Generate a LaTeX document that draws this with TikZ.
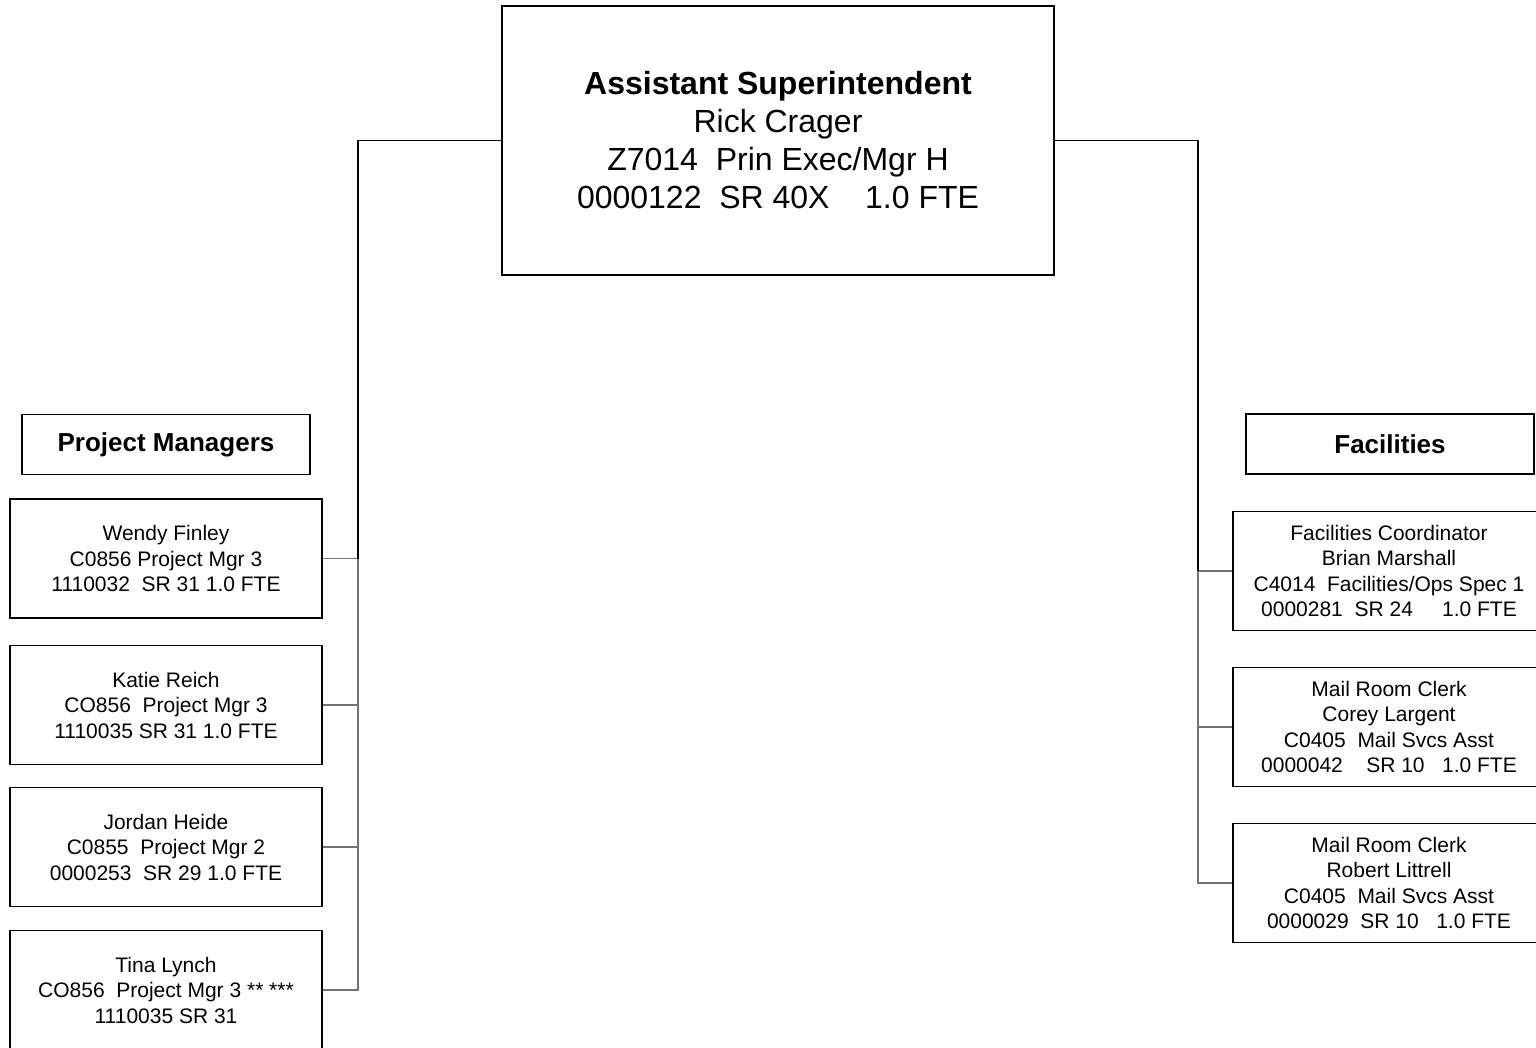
\documentclass[tikz,border=0pt]{standalone}
\usepackage{fontspec}
\setmainfont{Liberation Sans}

\begin{document}
\begin{tikzpicture}[x=1pt,y=-1pt,
  box/.style={draw,line width=1.6pt,minimum width=312pt,minimum height=119pt,
    inner sep=0pt,align=center,font=\fontsize{21}{25.5}\selectfont},
  head/.style={draw,line width=1.6pt,minimum width=288pt,minimum height=60pt,
    inner sep=0pt,font=\fontsize{26}{30}\selectfont\bfseries},
  trunk/.style={draw=black,line width=1.2pt},
  link/.style={draw=black!55,line width=1.2pt}]
\useasboundingbox (0,0) rectangle (1536,1048);
\clip (0,0) rectangle (1536,1048);
% top
\node[draw,line width=1.6pt,minimum width=552pt,minimum height=269pt,inner sep=0pt,
  align=center,font=\fontsize{32}{38}\selectfont] (boss) at (778,140.5)
  {\textbf{Assistant Superintendent}\\Rick Crager\\Z7014~~Prin Exec/Mgr H\\0000122~~SR 40X~~~~1.0 FTE};
\coordinate (lbus) at (358,141);
\coordinate (rbus) at (1198,141);
% project managers
\node[head] (pmhead) at (166,444.5) {Project Managers};
\node[box] (wendy) at (166,558.5) {Wendy Finley\\C0856 Project Mgr 3\\1110032~~SR 31 1.0 FTE};
\node[box] (katie) at (166,705) {Katie Reich\\CO856~~Project Mgr 3\\1110035 SR 31 1.0 FTE};
\node[box] (jordan) at (166,847) {Jordan Heide\\C0855~~Project Mgr 2\\0000253~~SR 29 1.0 FTE};
\node[box] (tina) at (166,990) {Tina Lynch\\CO856~~Project Mgr 3 ** ***\\1110035 SR 31};
% facilities
\node[head] (fachead) at (1390,444) {Facilities};
\node[box] (brian) at (1389,571) {Facilities Coordinator\\Brian Marshall\\C4014~~Facilities/Ops Spec 1\\0000281~~SR 24~~~~~1.0 FTE};
\node[box] (corey) at (1389,727) {Mail Room Clerk\\Corey Largent\\C0405~~Mail Svcs Asst\\0000042~~~~SR 10~~~1.0 FTE};
\node[box] (robert) at (1389,883) {Mail Room Clerk\\Robert Littrell\\C0405~~Mail Svcs Asst\\0000029~~SR 10~~~1.0 FTE};
% connectors
\foreach \n in {wendy,katie,jordan,tina}
  \draw[link] (lbus) |- (\n.east);
\foreach \n in {brian,corey,robert}
  \draw[link] (rbus) |- (\n.west);
\draw[trunk] (boss.west) -| (lbus |- wendy.east);
\draw[trunk] (boss.east) -| (rbus |- brian.west);
\end{tikzpicture}
\end{document}
